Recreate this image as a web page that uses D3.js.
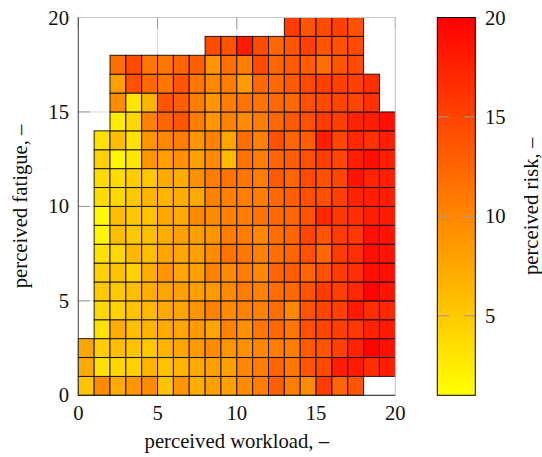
<!DOCTYPE html>
<html><head><meta charset="utf-8">
<script src="https://cdn.jsdelivr.net/npm/d3@7"></script>
<style>
html,body{margin:0;padding:0;background:#fff;}
svg{display:block;}
svg text{font-family:"Liberation Serif","Times New Roman",Times,serif;fill:#111;}
</style>
</head><body>
<svg id="chart" width="542" height="457"></svg>
<script>
// perceived risk per cell; index = workload bin (0..19), one array per fatigue bin (bottom to top)
const row00 = [5.5, 9.6, 7.3, 8.8, 9.6, 5.5, 8.8, 7.0, 8.1, 8.1, 9.6, 10.7, 12.9, 10.7, 9.6, 15.5, 12.5, 13.7, null, null];
const row01 = [7.3, 3.2, 4.0, 4.4, 6.6, 5.5, 6.6, 7.3, 8.1, 8.1, 9.9, 10.7, 12.5, 11.1, 13.7, 14.4, 17.8, 18.1, 16.6, 17.8];
const row02 = [7.7, 4.7, 5.8, 5.5, 5.1, 6.6, 7.7, 8.5, 9.6, 8.8, 9.2, 9.9, 10.7, 10.7, 13.3, 13.7, 15.2, 17.4, 19.6, 18.9];
const row03 = [null, 3.2, 7.0, 5.8, 6.6, 7.3, 7.7, 8.5, 7.7, 10.3, 9.2, 11.1, 12.2, 11.1, 14.0, 14.8, 15.2, 15.9, 17.4, 18.1];
const row04 = [null, 4.0, 4.4, 5.5, 6.2, 7.3, 7.7, 8.8, 10.3, 9.6, 10.3, 10.3, 11.8, 9.9, 13.7, 14.8, 15.2, 18.1, 16.6, 17.0];
const row05 = [null, 5.1, 5.1, 5.8, 7.0, 7.7, 8.1, 8.1, 8.5, 9.6, 10.7, 10.3, 11.8, 12.2, 13.7, 15.5, 15.2, 17.0, 19.6, 18.5];
const row06 = [null, 4.4, 5.5, 4.4, 7.0, 8.8, 7.7, 8.1, 10.3, 9.6, 10.7, 9.9, 12.5, 12.9, 12.5, 14.0, 15.5, 16.6, 18.9, 18.9];
const row07 = [null, 3.2, 4.0, 6.2, 5.8, 7.7, 7.7, 8.1, 9.6, 11.4, 11.1, 10.3, 11.8, 12.5, 14.0, 12.2, 15.5, 16.6, 18.9, 18.5];
const row08 = [null, 1.7, 5.8, 5.1, 5.8, 7.0, 8.1, 8.1, 8.8, 10.7, 10.7, 9.9, 11.8, 12.5, 14.8, 13.7, 15.5, 15.9, 18.9, 18.5];
const row09 = [null, 1.4, 5.8, 5.1, 5.5, 7.7, 7.3, 9.6, 9.6, 10.3, 10.7, 11.4, 12.2, 12.5, 14.0, 17.0, 15.9, 16.6, 17.8, 18.1];
const row10 = [null, 3.6, 4.0, 5.1, 6.6, 6.6, 7.0, 7.3, 10.3, 10.3, 10.7, 10.7, 12.2, 12.9, 14.0, 14.0, 15.2, 17.4, 17.8, 17.8];
const row11 = [null, 3.6, 3.6, 4.7, 5.1, 7.3, 7.0, 9.2, 10.7, 11.4, 11.1, 10.7, 13.3, 12.5, 14.4, 14.0, 14.8, 18.5, 17.4, 17.8];
const row12 = [null, 4.4, 1.7, 2.9, 8.8, 8.1, 9.2, 8.1, 9.6, 6.2, 11.4, 10.7, 12.5, 12.9, 14.0, 15.2, 14.8, 17.8, 18.9, 17.8];
const row13 = [null, 3.2, 5.8, 3.2, 8.8, 9.9, 10.7, 8.8, 10.3, 7.7, 11.8, 10.3, 14.0, 12.5, 12.9, 17.8, 14.8, 17.0, 16.3, 17.8];
const row14 = [null, null, 2.5, 4.0, 10.3, 12.5, 13.7, 10.7, 8.8, 10.3, 9.6, 10.7, 12.2, 13.3, 14.0, 15.5, 15.2, 17.4, 17.8, 18.9];
const row15 = [null, null, 9.6, 2.9, 6.6, 13.7, 12.9, 10.7, 8.8, 10.7, 11.4, 11.4, 12.2, 12.2, 14.0, 14.4, 14.8, 14.8, 16.3, null];
const row16 = [null, null, 8.1, 14.0, 12.2, 11.1, 13.7, 11.1, 9.9, 10.7, 8.5, 12.2, 12.2, 13.3, 14.4, 15.2, 15.2, 15.2, 16.6, null];
const row17 = [null, null, 11.8, 14.4, 11.1, 11.1, 12.5, 12.9, 8.8, 11.8, 10.7, 14.4, 12.5, 13.3, 12.9, 11.8, 13.7, 14.4, null, null];
const row18 = [null, null, null, null, null, null, null, null, 14.4, 14.0, 18.1, 14.4, 12.5, 13.7, 15.2, 13.7, 14.0, 14.4, null, null];
const row19 = [null, null, null, null, null, null, null, null, null, null, null, null, null, 15.5, 13.7, 14.4, 15.2, 14.0, null, null];
const riskRows = [row00,row01,row02,row03,row04,row05,row06,row07,row08,row09,row10,row11,row12,row13,row14,row15,row16,row17,row18,row19];

const xTicks = [0, 5, 10, 15, 20];
const yTicks = [0, 5, 10, 15, 20];
const cbTicks = [5, 10, 15, 20];
const riskRange = [1, 20];
const xLabel = "perceived workload, –";
const yLabel = "perceived fatigue, –";
const cbLabel = "perceived risk, –";

const svg = d3.select("#chart");
const fs = 20.7;
const L = 78.3, R = 395.3, T = 17.5, B = 395.3;
const x = d3.scaleLinear().domain([0, 20]).range([L, R]);
const y = d3.scaleLinear().domain([0, 20]).range([B, T]);
const color = d3.scaleSequential(d3.interpolateRgb("#ffff00", "#ff0000")).domain(riskRange);

// grid
const g = svg.append("g");
g.selectAll(".gx").data(xTicks).join("line")
  .attr("x1", d => x(d)).attr("x2", d => x(d)).attr("y1", T).attr("y2", B)
  .attr("stroke", "#dcdcdc").attr("stroke-width", 1);
g.selectAll(".gy").data(yTicks).join("line")
  .attr("y1", d => y(d)).attr("y2", d => y(d)).attr("x1", L).attr("x2", R)
  .attr("stroke", "#dcdcdc").attr("stroke-width", 1);
// inward ticks
g.selectAll(".ty").data(yTicks).join("line")
  .attr("y1", d => y(d)).attr("y2", d => y(d)).attr("x1", L).attr("x2", L + 11.5)
  .attr("stroke", "#9a9a9a").attr("stroke-width", 1);
g.selectAll(".tx").data(xTicks).join("line")
  .attr("x1", d => x(d)).attr("x2", d => x(d)).attr("y1", T).attr("y2", T + 11.5)
  .attr("stroke", "#9a9a9a").attr("stroke-width", 1);

// cells
const cells = [];
riskRows.forEach((row, j) => row.forEach((v, i) => { if (v !== null) cells.push({i, j, v}); }));
svg.append("g").selectAll("rect").data(cells).join("rect")
  .attr("x", d => x(d.i)).attr("y", d => y(d.j + 1))
  .attr("width", d => x(d.i + 1) - x(d.i)).attr("height", d => y(d.j) - y(d.j + 1))
  .attr("fill", d => color(d.v))
  .attr("stroke", "#000").attr("stroke-opacity", 0.85).attr("stroke-width", 1);

// spines
svg.append("line").attr("x1", L).attr("x2", R).attr("y1", T).attr("y2", T).attr("stroke", "#c8c8c8");
svg.append("line").attr("x1", R).attr("x2", R).attr("y1", T).attr("y2", B).attr("stroke", "#c8c8c8");
svg.append("line").attr("x1", L).attr("x2", L).attr("y1", T).attr("y2", B).attr("stroke", "#444");
svg.append("line").attr("x1", L).attr("x2", R).attr("y1", B).attr("y2", B).attr("stroke", "#222");

// tick labels
svg.append("g").selectAll("text").data(xTicks).join("text")
  .attr("x", d => x(d)).attr("y", 420).attr("text-anchor", "middle")
  .attr("font-size", fs).text(d => d);
svg.append("g").selectAll("text").data(yTicks).join("text")
  .attr("x", 69).attr("y", d => y(d)).attr("dy", "0.34em").attr("text-anchor", "end")
  .attr("font-size", fs).text(d => d);

// axis labels
svg.append("text").attr("x", (L + R) / 2).attr("y", 448).attr("text-anchor", "middle")
  .attr("font-size", fs).text(xLabel);
svg.append("text").attr("transform", `translate(27,${(T + B) / 2}) rotate(-90)`).attr("text-anchor", "middle")
  .attr("font-size", fs).text(yLabel);

// colorbar
const cbL = 437.3, cbR = 475.3;
const cy = d3.scaleLinear().domain(riskRange).range([B, T]);
const defs = svg.append("defs");
const grad = defs.append("linearGradient").attr("id", "cbgrad").attr("x1", 0).attr("x2", 0).attr("y1", 1).attr("y2", 0);
d3.range(0, 1.0001, 0.1).forEach(t => {
  grad.append("stop").attr("offset", t).attr("stop-color", color(riskRange[0] + t * (riskRange[1] - riskRange[0])));
});
svg.append("rect").attr("x", cbL).attr("y", T).attr("width", cbR - cbL).attr("height", B - T)
  .attr("fill", "url(#cbgrad)");
const cbt = svg.append("g");
cbt.selectAll(".l").data(cbTicks.filter(d => d < 20)).join("line")
  .attr("x1", cbL).attr("x2", cbL + 11.5).attr("y1", d => cy(d)).attr("y2", d => cy(d))
  .attr("stroke", "#9a9a9a").attr("stroke-width", 1);
cbt.selectAll(".r").data(cbTicks.filter(d => d < 20)).join("line")
  .attr("x1", cbR - 11.5).attr("x2", cbR).attr("y1", d => cy(d)).attr("y2", d => cy(d))
  .attr("stroke", "#9a9a9a").attr("stroke-width", 1);
svg.append("rect").attr("x", cbL).attr("y", T).attr("width", cbR - cbL).attr("height", B - T)
  .attr("fill", "none").attr("stroke", "#000").attr("stroke-width", 1);
svg.append("g").selectAll("text").data(cbTicks).join("text")
  .attr("x", 485).attr("y", d => cy(d)).attr("dy", "0.34em")
  .attr("font-size", fs).text(d => d);
svg.append("text").attr("transform", `translate(537.5,${(T + B) / 2}) rotate(-90)`).attr("text-anchor", "middle")
  .attr("font-size", fs).text(cbLabel);
</script>
</body></html>
